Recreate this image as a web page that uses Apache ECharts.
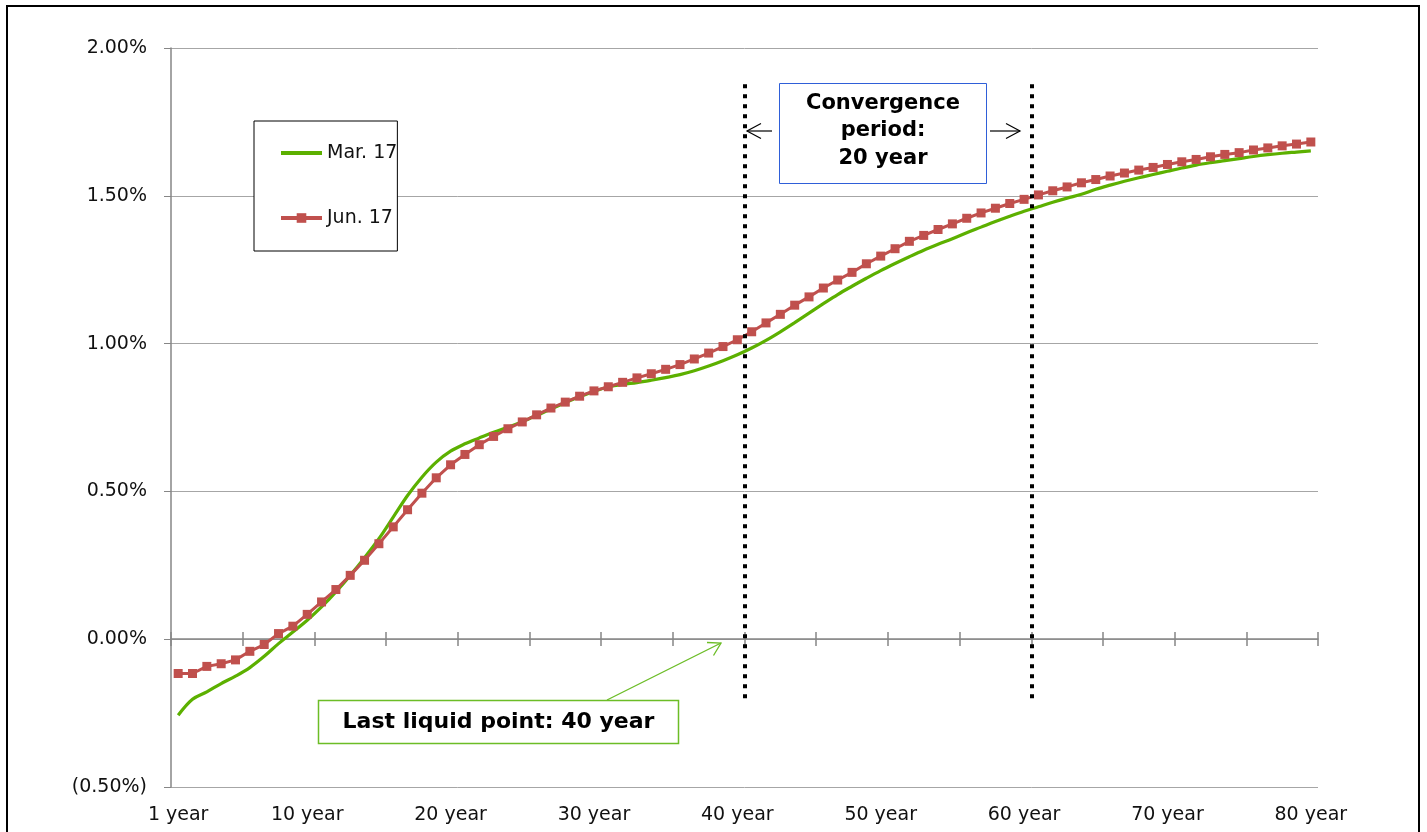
<!DOCTYPE html>
<html>
<head>
<meta charset="utf-8">
<title>Mar. 17 / Jun. 17</title>
<script src="https://cdn.jsdelivr.net/npm/echarts@6/dist/echarts.min.js"></script>
<style>
  html, body { margin: 0; padding: 0; background: #fff; }
  #main { width: 1427px; height: 832px; }
</style>
</head>
<body>
<div id="main"></div>
<script>
// categories: 1 year ... 80 year
const years = [];
for (let i = 1; i <= 80; i++) years.push(i + ' year');

// Mar. 17 curve (%)
const mar17 = [
  -0.257, -0.203, -0.178, -0.150, -0.125, -0.096, -0.058, -0.015, 0.024, 0.064,
  0.109, 0.160, 0.216, 0.276, 0.340, 0.413, 0.486, 0.548, 0.599, 0.636,
  0.661, 0.681, 0.700, 0.717, 0.736, 0.757, 0.779, 0.800, 0.820, 0.838,
  0.853, 0.862, 0.868, 0.876, 0.885, 0.895, 0.908, 0.924, 0.942, 0.962,
  0.985, 1.011, 1.040, 1.071, 1.103, 1.135, 1.166, 1.194, 1.221, 1.247,
  1.271, 1.294, 1.316, 1.336, 1.355, 1.375, 1.394, 1.413, 1.431, 1.448,
  1.463, 1.478, 1.492, 1.505, 1.522, 1.536, 1.549, 1.561, 1.572, 1.583,
  1.594, 1.604, 1.612, 1.619, 1.626, 1.633, 1.639, 1.644, 1.648, 1.652
];

// Jun. 17 curve (%)
const jun17 = [
  -0.116, -0.116, -0.092, -0.083, -0.070, -0.041, -0.018, 0.019, 0.044, 0.084,
  0.126, 0.168, 0.216, 0.267, 0.323, 0.380, 0.438, 0.494, 0.546, 0.590,
  0.625, 0.658, 0.686, 0.712, 0.735, 0.759, 0.782, 0.802, 0.822, 0.840,
  0.854, 0.869, 0.884, 0.898, 0.913, 0.929, 0.948, 0.968, 0.990, 1.013,
  1.040, 1.070, 1.099, 1.130, 1.158, 1.188, 1.215, 1.241, 1.270, 1.296,
  1.321, 1.346, 1.366, 1.386, 1.405, 1.424, 1.442, 1.458, 1.474, 1.488,
  1.503, 1.517, 1.530, 1.544, 1.555, 1.567, 1.577, 1.587, 1.596, 1.606,
  1.615, 1.623, 1.632, 1.640, 1.646, 1.655, 1.662, 1.669, 1.675, 1.682
];

// last liquid point and end of the convergence period (years)
const convergenceLines = [40, 60];

const font = "'DejaVu Sans', Verdana, sans-serif";
const axisColor = '#868686';
const gridColor = '#a6a6a6';
const green = '#5cb000';
const red = '#c0504d';
const boxGreen = '#6cbd26';
const boxBlue = '#2f5fd8';

const chart = echarts.init(document.getElementById('main'));

// ticks crossing the 0.00% line (one axis for each side)
const tickAxis = (inside, showLine) => ({
  type: 'category',
  data: years,
  position: 'bottom',
  offset: -148,
  axisLine: { show: showLine, onZero: false, lineStyle: { color: axisColor, width: 1.5 } },
  axisTick: { show: true, interval: (i) => i % 5 === 0, inside: inside, length: 7, lineStyle: { color: axisColor, width: 1.5 } },
  axisLabel: { show: false },
  splitLine: { show: false }
});

const option = {
  animation: false,
  textStyle: { fontFamily: font },
  grid: { left: 171, top: 48, width: 1147, height: 739 },
  legend: {
    data: [
      { name: 'Mar. 17', itemStyle: { opacity: 0 }, lineStyle: { width: 4 } },
      { name: 'Jun. 17', lineStyle: { width: 4 } }
    ],
    orient: 'vertical',
    left: 254,
    top: 121,
    padding: [21, 0, 22, 25],
    itemGap: 43,
    itemWidth: 41,
    itemHeight: 12,
    backgroundColor: '#fff',
    borderColor: '#000',
    borderWidth: 1,
    textStyle: { fontSize: 19, color: '#111', lineHeight: 22, fontFamily: font }
  },
  xAxis: [
    {
      type: 'category',
      data: years,
      position: 'bottom',
      axisLine: { show: false, onZero: false },
      axisTick: { show: false },
      axisLabel: {
        interval: (i) => i === 0 || (i + 1) % 10 === 0,
        margin: 19,
        fontSize: 19,
        color: '#111',
        fontFamily: font
      },
      splitLine: { show: false }
    },
    tickAxis(true, true),
    tickAxis(false, false),
    { type: 'value', min: 0, max: 80, show: false }
  ],
  yAxis: {
    type: 'value',
    min: -0.5,
    max: 2,
    interval: 0.5,
    axisLine: { show: true, lineStyle: { color: axisColor, width: 1.5 } },
    axisTick: { show: true, length: 7, lineStyle: { color: axisColor } },
    axisLabel: {
      margin: 24,
      fontSize: 19,
      color: '#111',
      fontFamily: font,
      formatter: (v) => v < 0 ? '(' + Math.abs(v).toFixed(2) + '%)' : v.toFixed(2) + '%'
    },
    splitLine: { lineStyle: { color: gridColor, width: 1 } }
  },
  series: [
    {
      name: 'Mar. 17',
      type: 'line',
      data: mar17,
      smooth: 0.35,
      symbol: 'none',
      color: green,
      lineStyle: { color: green, width: 3.2 }
    },
    {
      name: 'Jun. 17',
      type: 'line',
      data: jun17,
      symbol: 'rect',
      symbolSize: 9,
      color: red,
      itemStyle: { color: red },
      lineStyle: { color: red, width: 3 }
    },
    {
      // dotted markers for the 40 and 60 year points
      type: 'line',
      xAxisIndex: 3,
      data: [],
      silent: true,
      markLine: {
        silent: true,
        symbol: ['none', 'none'],
        label: { show: false },
        lineStyle: { color: '#000', width: 4, type: [4, 6], cap: 'butt' },
        data: convergenceLines.map((x) => [{ coord: [x, -0.2] }, { coord: [x, 1.88] }])
      }
    }
  ],
  graphic: [
    // outer frame
    { type: 'rect', z: 100, silent: true, shape: { x: 7, y: 6, width: 1412, height: 850 }, style: { fill: null, stroke: '#000', lineWidth: 2 } },
    // convergence period box
    { type: 'rect', z: 100, shape: { x: 779.5, y: 83.5, width: 207, height: 100 }, style: { fill: '#fff', stroke: boxBlue, lineWidth: 1 } },
    {
      type: 'text', z: 101, x: 883, y: 131,
      style: { text: 'Convergence\nperiod:\n20 year', font: 'bold 21px ' + font, textAlign: 'center', textVerticalAlign: 'middle', lineHeight: 27.5, fill: '#000' }
    },
    { type: 'polyline', z: 100, shape: { points: [[747, 131], [772, 131]] }, style: { stroke: '#000', lineWidth: 1.2, fill: null } },
    { type: 'polyline', z: 100, shape: { points: [[761, 123.5], [747, 131], [761, 138.5]] }, style: { stroke: '#000', lineWidth: 1.2, fill: null } },
    { type: 'polyline', z: 100, shape: { points: [[990, 131], [1020, 131]] }, style: { stroke: '#000', lineWidth: 1.2, fill: null } },
    { type: 'polyline', z: 100, shape: { points: [[1006, 123.5], [1020, 131], [1006, 138.5]] }, style: { stroke: '#000', lineWidth: 1.2, fill: null } },
    // last liquid point box + arrow
    { type: 'rect', z: 100, shape: { x: 318.5, y: 700.5, width: 360, height: 43 }, style: { fill: '#fff', stroke: boxGreen, lineWidth: 1.5 } },
    {
      type: 'text', z: 101, x: 498.5, y: 722,
      style: { text: 'Last liquid point: 40 year', font: 'bold 22px ' + font, textAlign: 'center', textVerticalAlign: 'middle', fill: '#000' }
    },
    { type: 'polyline', z: 100, shape: { points: [[607, 700], [721, 643]] }, style: { stroke: boxGreen, lineWidth: 1.3, fill: null } },
    { type: 'polyline', z: 100, shape: { points: [[707, 642.5], [721, 643], [713.5, 655.5]] }, style: { stroke: boxGreen, lineWidth: 1.3, fill: null } }
  ]
};

chart.setOption(option);
</script>
</body>
</html>
